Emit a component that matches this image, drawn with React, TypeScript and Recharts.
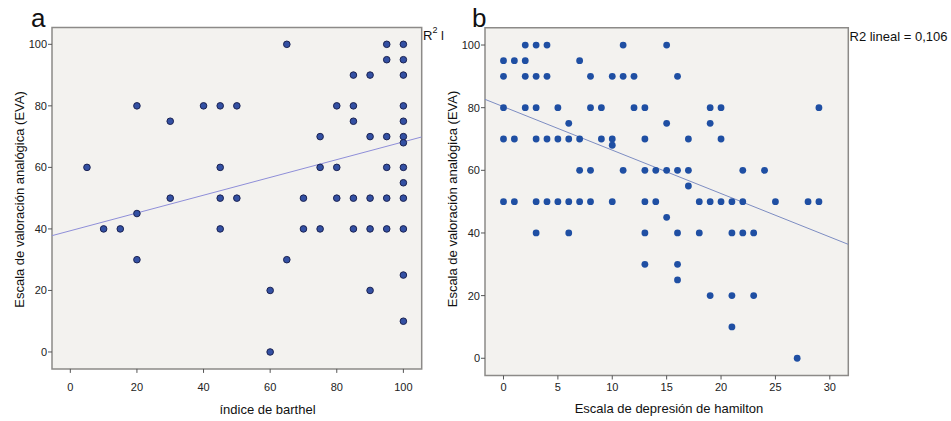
import React from 'react';
import { ScatterChart, Scatter, XAxis, YAxis, ReferenceArea, ReferenceLine } from 'recharts';

// panel a: índice de barthel vs EVA
const barthel = [
  65, 95, 100, 95, 100, 85, 90, 100,
  20, 40, 45, 50, 80, 85, 100, 30, 85, 100,
  75, 90, 95, 100, 100,
  5, 45, 75, 80, 95, 100, 100,
  30, 45, 50, 70, 80, 85, 90, 95, 100,
  20, 10, 15, 45, 70, 75, 85, 90, 95, 100,
  20, 65, 100, 60, 90, 100, 60,
];
const evaA = [
  100, 100, 100, 95, 95, 90, 90, 90,
  80, 80, 80, 80, 80, 80, 80, 75, 75, 75,
  70, 70, 70, 70, 68,
  60, 60, 60, 60, 60, 60, 55,
  50, 50, 50, 50, 50, 50, 50, 50, 50,
  45, 40, 40, 40, 40, 40, 40, 40, 40, 40,
  30, 30, 25, 20, 20, 10, 0,
];

// panel b: escala de depresión de hamilton vs EVA
const hamilton = [
  2, 3, 4, 11, 15,
  0, 1, 2, 7,
  0, 2, 3, 4, 8, 10, 11, 12, 16,
  0, 2, 3, 5, 8, 9, 12, 13, 19, 20, 29,
  6, 15, 19,
  0, 1, 3, 4, 5, 6, 7, 9, 10, 13, 17, 20,
  10,
  7, 8, 11, 13, 14, 15, 16, 17, 22, 24,
  17,
  0, 1, 3, 4, 5, 6, 7, 8, 10, 13, 14, 18, 19, 20, 21, 22, 25, 28, 29,
  15,
  3, 6, 13, 16, 18, 21, 22, 23,
  13, 16, 16, 19, 21, 23, 21, 27,
];
const evaB = [
  100, 100, 100, 100, 100,
  95, 95, 95, 95,
  90, 90, 90, 90, 90, 90, 90, 90, 90,
  80, 80, 80, 80, 80, 80, 80, 80, 80, 80, 80,
  75, 75, 75,
  70, 70, 70, 70, 70, 70, 70, 70, 70, 70, 70, 70,
  68,
  60, 60, 60, 60, 60, 60, 60, 60, 60, 60,
  55,
  50, 50, 50, 50, 50, 50, 50, 50, 50, 50, 50, 50, 50, 50, 50, 50, 50, 50, 50,
  45,
  40, 40, 40, 40, 40, 40, 40, 40,
  30, 30, 25, 20, 20, 20, 10, 0,
];

const evaTicks = [0, 20, 40, 60, 80, 100];
const barthelTicks = [0, 20, 40, 60, 80, 100];
const hamiltonTicks = [0, 5, 10, 15, 20, 25, 30];

// fit lines
const fitA = { intercept: 39.4, slope: 0.289 };
const fitB = { intercept: 80.3, slope: -1.386 };

const domainEva: [number, number] = [-5.5, 105.5];
const domainBarthel: [number, number] = [-5.5, 105.5];
const domainHamilton: [number, number] = [-1.7, 31.7];

const dataA = barthel.map((x, i) => ({ x, y: evaA[i] }));
const dataB = hamilton.map((x, i) => ({ x, y: evaB[i] }));

const font = '"Liberation Sans", Arial, sans-serif';
const tickStyle = { fontSize: 11, fill: '#222', fontFamily: font };
const bg = '#f3f2ef';
const frame = '#8c8a88';

const fitSegment = (fit: { intercept: number; slope: number }, d: [number, number]) => [
  { x: d[0], y: fit.intercept + fit.slope * d[0] },
  { x: d[1], y: fit.intercept + fit.slope * d[1] },
];

const dotA = (p: any) => (
  <circle cx={p.cx} cy={p.cy} r={3.3} fill="#3350a3" stroke="#1b2352" strokeWidth={1} />
);
const dotB = (p: any) => <circle cx={p.cx} cy={p.cy} r={3.4} fill="#1f4fa3" />;

const App: React.FC = () => {
  return (
    <div style={{ position: 'absolute', left: 0, top: 0, width: 951, height: 421, background: '#fff' }}>
      <div style={{ position: 'absolute', left: 0, top: 0 }}>
        <ScatterChart width={440} height={421} margin={{ top: 27.4, right: 18.3, bottom: 22.1, left: 12 }}>
          <XAxis
            type="number"
            dataKey="x"
            domain={domainBarthel}
            ticks={barthelTicks}
            allowDataOverflow
            axisLine={false}
            tickLine={{ stroke: '#555' }}
            tickSize={4}
            tickMargin={10}
            tick={tickStyle}
            height={30}
          />
          <YAxis
            type="number"
            dataKey="y"
            domain={domainEva}
            ticks={evaTicks}
            allowDataOverflow
            axisLine={false}
            tickLine={{ stroke: '#555' }}
            tickSize={4}
            tickMargin={1}
            tick={tickStyle}
            width={40}
          />
          <ReferenceArea
            x1={domainBarthel[0]}
            x2={domainBarthel[1]}
            y1={domainEva[0]}
            y2={domainEva[1]}
            fill={bg}
            fillOpacity={1}
            stroke={frame}
            strokeWidth={1.5}
          />
          <ReferenceLine segment={fitSegment(fitA, domainBarthel)} stroke="#8e8ed8" strokeWidth={1} ifOverflow="hidden" />
          <Scatter data={dataA} shape={dotA} isAnimationActive={false} />
        </ScatterChart>
      </div>
      <div style={{ position: 'absolute', left: 440, top: 0 }}>
        <ScatterChart width={511} height={421} margin={{ top: 27.8, right: 102.7, bottom: 15.5, left: 5 }}>
          <XAxis
            type="number"
            dataKey="x"
            domain={domainHamilton}
            ticks={hamiltonTicks}
            allowDataOverflow
            axisLine={false}
            tickLine={{ stroke: '#555' }}
            tickSize={4}
            tickMargin={4}
            tick={tickStyle}
            height={30}
          />
          <YAxis
            type="number"
            dataKey="y"
            domain={domainEva}
            ticks={evaTicks}
            allowDataOverflow
            axisLine={false}
            tickLine={{ stroke: '#555' }}
            tickSize={4}
            tickMargin={1}
            tick={tickStyle}
            width={40}
          />
          <ReferenceArea
            x1={domainHamilton[0]}
            x2={domainHamilton[1]}
            y1={domainEva[0]}
            y2={domainEva[1]}
            fill={bg}
            fillOpacity={1}
            stroke={frame}
            strokeWidth={1.5}
          />
          <ReferenceLine segment={fitSegment(fitB, domainHamilton)} stroke="#7d8dc2" strokeWidth={1} ifOverflow="hidden" />
          <Scatter data={dataB} shape={dotB} isAnimationActive={false} />
        </ScatterChart>
      </div>
      <svg
        width={951}
        height={421}
        style={{ position: 'absolute', left: 0, top: 0, pointerEvents: 'none' }}
        fontFamily={font}
        fill="#111"
      >
        <text x={31} y={27} fontSize={26}>a</text>
        <text x={472} y={27} fontSize={26}>b</text>
        <text x={423} y={40} fontSize={13}>
          R<tspan dy={-7} fontSize={9}>2</tspan>
          <tspan dy={7} fontSize={13}> l</tspan>
        </text>
        <text x={849.5} y={40.5} fontSize={13}>R2 lineal = 0,106</text>
        <text x={267.5} y={413.5} fontSize={13} textAnchor="middle">índice de barthel</text>
        <text x={669} y={413} fontSize={13} textAnchor="middle">Escala de depresión de hamilton</text>
        <text x={24} y={199.5} fontSize={13} textAnchor="middle" transform="rotate(-90 24 199.5)">
          Escala de valoración analógica (EVA)
        </text>
        <text x={457.3} y={199} fontSize={13} textAnchor="middle" transform="rotate(-90 457.3 199)">
          Escala de valoración analógica (EVA)
        </text>
      </svg>
    </div>
  );
};

export default App;
